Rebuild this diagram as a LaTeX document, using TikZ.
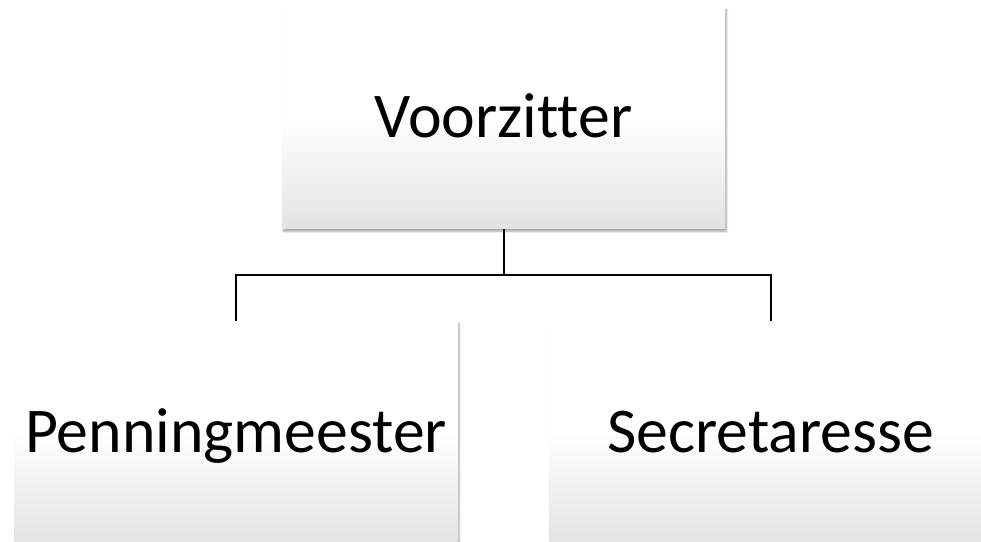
\documentclass[tikz,border=0pt]{standalone}
\usepackage{fontspec}
\setmainfont[Ligatures=NoCommon, RawFeature={-liga;-clig}]{Carlito}
\usetikzlibrary{positioning,shadows.blur}
\tikzset{
basic/.style  = {align=center, rectangle, minimum width=443bp, minimum height=222bp, inner sep=0pt,
	text height=40bp, text depth=0bp,
	top color=white, bottom color=black!11, middle color=white,
	blur shadow={shadow xshift=1.5bp, shadow yshift=-2.5bp, shadow blur steps=8, shadow opacity=35},
	font=\fontsize{64}{76}\selectfont},
link/.style = {draw, line width=2bp},
}
\begin{document}
\begin{tikzpicture}[x=1bp, y=1bp, node distance = 92bp and 0bp]

	\useasboundingbox (0,0) rectangle (981,-542);

	\node[basic] (voorz) at (503.5,-118) {Voorzitter};
	\node[basic, below =of voorz, xshift=-267.5bp] (penn) {Penningmeester};
	\node[basic, below =of voorz, xshift=267bp] (secr) {Secretaresse};

	\draw[link] (voorz.south) -- ++(0,-46) -| (penn.north);
	\draw[link] (voorz.south) -- ++(0,-46) -| (secr.north);

\end{tikzpicture}
\end{document}
